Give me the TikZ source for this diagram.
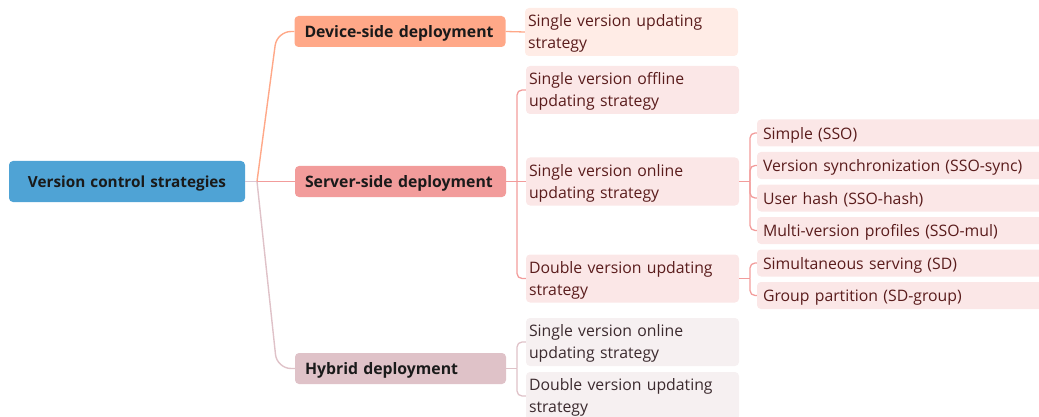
\documentclass[tikz,border=0pt]{standalone}
\usepackage{fontspec}
\setmainfont{Open Sans}
\definecolor{rootc}{HTML}{4FA3D5}
\definecolor{devc}{HTML}{FFA888}
\definecolor{srvc}{HTML}{F29C9B}
\definecolor{hybc}{HTML}{DFC2C8}
\definecolor{devl}{HTML}{FFECE6}
\definecolor{srvl}{HTML}{FBE7E7}
\definecolor{hybl}{HTML}{F6F0F1}
\definecolor{rootl}{HTML}{DCC6D2}
\definecolor{txtr}{HTML}{5A1C1C}
\definecolor{txth}{HTML}{3B2A2E}
\definecolor{txtk}{HTML}{1A1A1A}
\begin{document}
\begin{tikzpicture}[x=1pt,y=-1pt,
  base/.style={rectangle,rounded corners=4pt,draw=none,inner ysep=0pt,align=left},
  lvl0/.style={base,fill=rootc,minimum width=236pt,minimum height=41pt,text width=206pt,inner xsep=15pt,align=center,
     text depth=0pt,font=\fontsize{15.3}{18}\selectfont\bfseries,text=txtk},
  lvl1/.style={base,minimum width=211pt,minimum height=31pt,text width=191pt,inner xsep=10pt,
     text depth=0pt,font=\fontsize{15.8}{18}\selectfont\bfseries,text=txtk},
  leaf/.style={base,minimum width=213pt,minimum height=48pt,text width=207pt,inner xsep=3pt,
     font=\fontsize{15.8}{22}\selectfont,text=txtr,execute at begin node={\rule{0pt}{15pt}}},
  sub/.style={base,fill=srvl,minimum width=300pt,minimum height=27pt,text width=288pt,inner xsep=6pt,
     text depth=0pt,font=\fontsize{15.8}{18}\selectfont,text=txtr},
  conn/.style={line width=1.3pt,rounded corners=5pt},
  conn1/.style={line width=1.4pt,rounded corners=14pt}]
\useasboundingbox (0,0) rectangle (1039,417);
\clip (0,0) rectangle (1039,417);

% nodes
\node[lvl0] (root) at (127,181.5) {Version control strategies};
\node[lvl1,fill=devc] (dev) at (400,31.5) {Device-side deployment};
\node[lvl1,fill=srvc] (srv) at (400.5,181.5) {Server-side deployment};
\node[lvl1,fill=hybc] (hyb) at (400.5,368.5) {Hybrid deployment};

\node[leaf,fill=devl] (devs) at (631.5,32) {Single version updating\\strategy};
\node[leaf,fill=srvl] (offl) at (632.5,90) {Single version offline\\updating strategy};
\node[leaf,fill=srvl] (onl) at (632.5,181.5) {Single version online\\updating strategy};
\node[leaf,fill=srvl] (dbl) at (632.5,278.5) {Double version updating\\strategy};
\node[leaf,fill=hybl,text=txth] (hon) at (632.5,342) {Single version online\\updating strategy};
\node[leaf,fill=hybl,text=txth] (hdb) at (632.5,396) {Double version updating\\strategy};

\node[sub] (sso) at (907,133) {Simple (SSO)};
\node[sub] (sync) at (907,165.5) {Version synchronization (SSO-sync)};
\node[sub] (hash) at (907,198) {User hash (SSO-hash)};
\node[sub] (mul) at (907,230.5) {Multi-version profiles (SSO-mul)};
\node[sub] (sd) at (907,263) {Simultaneous serving (SD)};
\node[sub] (sdg) at (907,295.5) {Group partition (SD-group)};

% junctions
\coordinate (j1) at (257,181.5);
\coordinate (j2) at (517,181.5);
\coordinate (j3) at (750,181.5);
\coordinate (j4) at (750,278.5);
\coordinate (j5) at (517,368.5);
\coordinate (c1) at (277,31.5);
\coordinate (c2) at (277,368.5);

% level 1 connectors
\draw[line width=1.4pt,rootl] (root.east) -- (j1);
\draw[conn1,devc] (j1) -- (c1) -- (dev.west);
\draw[conn1,hybc] (j1) -- (c2) -- (hyb.west);
\draw[line width=1.4pt,srvc] (j1) -- (srv.west);

% device
\draw[conn,devc] (dev.east) -- (devs.west);

% server
\draw[conn,srvc] (srv.east) -- (j2);
\draw[conn,srvc] (offl.west) -| (j2);
\draw[conn,srvc] (onl.west) -- (j2);
\draw[conn,srvc] (dbl.west) -| (j2);

\draw[conn,srvc] (onl.east) -- (j3);
\draw[conn,srvc] (sso.west) -| (j3);
\draw[conn,srvc] (sync.west) -| (j3);
\draw[conn,srvc] (hash.west) -| (j3);
\draw[conn,srvc] (mul.west) -| (j3);

\draw[conn,srvc] (dbl.east) -- (j4);
\draw[conn,srvc] (sd.west) -| (j4);
\draw[conn,srvc] (sdg.west) -| (j4);

% hybrid
\draw[conn,hybc] (hyb.east) -- (j5);
\draw[conn,hybc] (hon.west) -| (j5);
\draw[conn,hybc] (hdb.west) -| (j5);
\end{tikzpicture}
\end{document}
